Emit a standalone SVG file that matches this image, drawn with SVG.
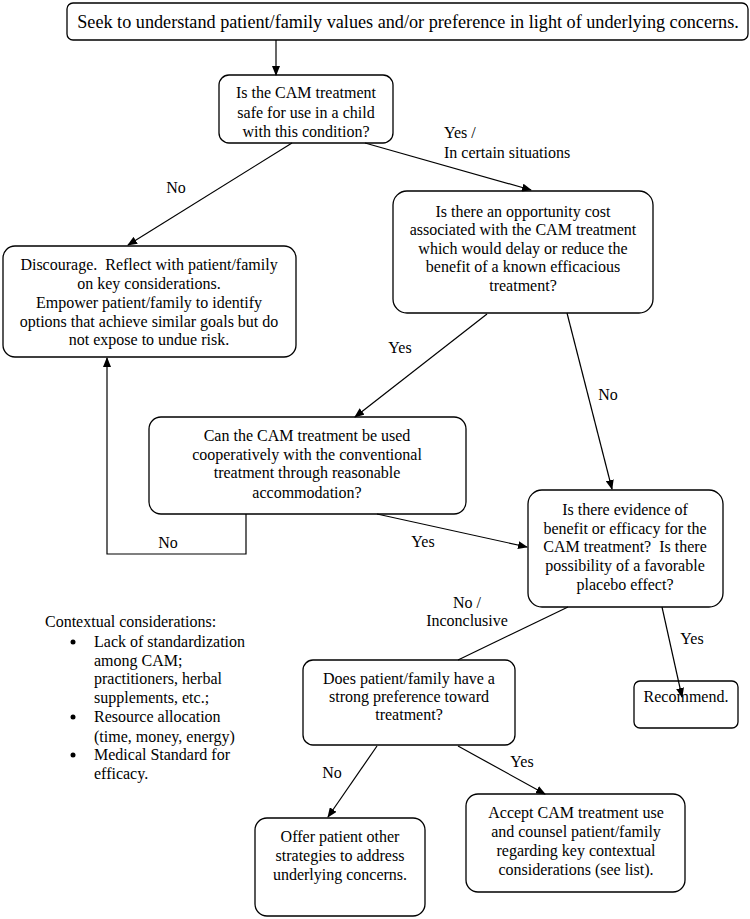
<svg xmlns="http://www.w3.org/2000/svg" width="750" height="919" viewBox="0 0 750 919">
<style>
.box{fill:#fff;stroke:#000;stroke-width:1.3}
text{font-family:"Liberation Serif","Times New Roman","DejaVu Serif",serif;font-size:16px;fill:#000;white-space:pre}
.c{text-anchor:middle}
.ln{fill:none;stroke:#000;stroke-width:1.2}
</style>
<defs>
<marker id="ah" markerWidth="10" markerHeight="8" refX="9" refY="4" orient="auto" markerUnits="userSpaceOnUse">
<path d="M0,0 L10,4 L0,8 Z" fill="#000"/>
</marker>
</defs>
<rect width="750" height="919" fill="#fff"/>
<g id="n1">
<rect class="box" x="67" y="3" width="681" height="37" rx="6"/>
<text class="c" x="408" y="28" style="font-size:18.2px">Seek to understand patient/family values and/or preference in light of underlying concerns.</text>
</g>
<g id="n2">
<rect class="box" x="219" y="75" width="174" height="68" rx="10"/>
<text class="c" x="306" y="98">Is the CAM treatment</text>
<text class="c" x="306" y="118">safe for use in a child</text>
<text class="c" x="306" y="137">with this condition?</text>
</g>
<g id="n3">
<rect class="box" x="3" y="246" width="293" height="111" rx="12"/>
<text class="c" x="149" y="270" xml:space="preserve">Discourage.  Reflect with patient/family</text>
<text class="c" x="149" y="289">on key considerations.</text>
<text class="c" x="149" y="308">Empower patient/family to identify</text>
<text class="c" x="149" y="327">options that achieve similar goals but do</text>
<text class="c" x="149" y="345">not expose to undue risk.</text>
</g>
<g id="n4">
<rect class="box" x="393" y="191" width="260" height="122" rx="14"/>
<text class="c" x="523" y="217">Is there an opportunity cost</text>
<text class="c" x="523" y="235">associated with the CAM treatment</text>
<text class="c" x="523" y="254">which would delay or reduce the</text>
<text class="c" x="523" y="272">benefit of a known efficacious</text>
<text class="c" x="523" y="291">treatment?</text>
</g>
<g id="n5">
<rect class="box" x="149" y="417" width="317" height="97" rx="12"/>
<text class="c" x="307" y="441">Can the CAM treatment be used</text>
<text class="c" x="307" y="460">cooperatively with the conventional</text>
<text class="c" x="307" y="478">treatment through reasonable</text>
<text class="c" x="307" y="498">accommodation?</text>
</g>
<g id="n6">
<rect class="box" x="528" y="490" width="195" height="117" rx="14"/>
<text class="c" x="625" y="515">Is there evidence of</text>
<text class="c" x="625" y="534">benefit or efficacy for the</text>
<text class="c" x="625" y="552" xml:space="preserve">CAM treatment?  Is there</text>
<text class="c" x="625" y="571">possibility of a favorable</text>
<text class="c" x="625" y="590">placebo effect?</text>
</g>
<g id="n7">
<rect class="box" x="303" y="660" width="212" height="85" rx="10"/>
<text class="c" x="409" y="684">Does patient/family have a</text>
<text class="c" x="409" y="702">strong preference toward</text>
<text class="c" x="409" y="720">treatment?</text>
</g>
<g id="n8">
<rect class="box" x="634" y="681" width="104" height="47" rx="6"/>
<text class="c" x="686" y="702">Recommend.</text>
</g>
<g id="n9">
<rect class="box" x="255" y="818" width="170" height="98" rx="12"/>
<text class="c" x="340" y="842">Offer patient other</text>
<text class="c" x="340" y="861">strategies to address</text>
<text class="c" x="340" y="880">underlying concerns.</text>
</g>
<g id="n10">
<rect class="box" x="466" y="794" width="219" height="98" rx="12"/>
<text class="c" x="576" y="818">Accept CAM treatment use</text>
<text class="c" x="576" y="837">and counsel patient/family</text>
<text class="c" x="576" y="856">regarding key contextual</text>
<text class="c" x="576" y="875">considerations (see list).</text>
</g>
<g id="notes">
<text x="45" y="627">Contextual considerations:</text>
<circle cx="73" cy="642" r="2.5"/>
<text x="94" y="647">Lack of standardization</text>
<text x="94" y="666">among CAM;</text>
<text x="94" y="684">practitioners, herbal</text>
<text x="94" y="703">supplements, etc.;</text>
<circle cx="73" cy="717" r="2.5"/>
<text x="94" y="722">Resource allocation</text>
<text x="94" y="742">(time, money, energy)</text>
<circle cx="73" cy="755" r="2.5"/>
<text x="94" y="760">Medical Standard for</text>
<text x="94" y="779">efficacy.</text>
</g>
<g id="connectors">
<line class="ln" x1="276" y1="40" x2="276" y2="75" marker-end="url(#ah)"/>
<line class="ln" x1="292" y1="143" x2="128" y2="245" marker-end="url(#ah)"/>
<line class="ln" x1="365" y1="143" x2="531" y2="190" marker-end="url(#ah)"/>
<line class="ln" x1="487" y1="314" x2="355" y2="417" marker-end="url(#ah)"/>
<line class="ln" x1="567" y1="313" x2="612" y2="489" marker-end="url(#ah)"/>
<polyline class="ln" points="246,514 246,554 107,554 107,358" marker-end="url(#ah)"/>
<line class="ln" x1="377" y1="514" x2="527" y2="547" marker-end="url(#ah)"/>
<line class="ln" x1="568" y1="607" x2="458" y2="660"/>
<line class="ln" x1="662" y1="607" x2="682" y2="697" marker-end="url(#ah)"/>
<line class="ln" x1="377" y1="746" x2="328" y2="817" marker-end="url(#ah)"/>
<line class="ln" x1="458" y1="746" x2="545" y2="794" marker-end="url(#ah)"/>
<text class="c" x="176" y="193">No</text>
<text x="444" y="138">Yes /</text>
<text x="444" y="158">In certain situations</text>
<text class="c" x="400" y="353">Yes</text>
<text class="c" x="608" y="400">No</text>
<text class="c" x="168" y="548">No</text>
<text class="c" x="423" y="547">Yes</text>
<text class="c" x="467" y="608">No /</text>
<text class="c" x="467" y="626">Inconclusive</text>
<text class="c" x="692" y="644">Yes</text>
<text class="c" x="332" y="778">No</text>
<text class="c" x="522" y="767">Yes</text>
</g>
</svg>
